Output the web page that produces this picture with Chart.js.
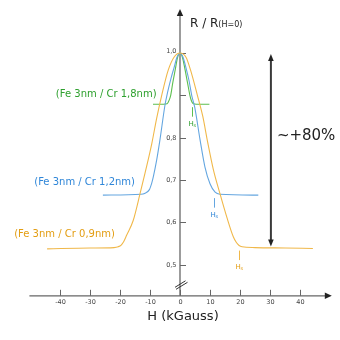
<!DOCTYPE html>
<html>
<head>
<meta charset="utf-8">
<style>
  html, body { margin: 0; padding: 0; background: #ffffff; }
  #wrap { width: 340px; height: 340px; }
</style>
<script src="https://cdn.jsdelivr.net/npm/chart.js@4/dist/chart.umd.min.js"></script>
</head>
<body>
<div id="wrap"><canvas id="c" width="340" height="340"></canvas></div>
<script>
// Magnetoresistance R / R(H=0) versus applied field H (kGauss) for Fe/Cr multilayers
const H_CR09 = [-44.3, -30, -22, -20.6, -19.6, -18.7, -17.8, -15.6, -13.3, -11.7, -9.4, -7.8, -6.1, -3.9, -2, 0,
                2, 3.5, 5.8, 7.6, 9.2, 11.1, 13.3, 15.6, 17.8, 18.8, 19.7, 20.7, 25, 35, 44.3];
const R_CR09 = [0.537, 0.539, 0.540, 0.542, 0.546, 0.555, 0.569, 0.604, 0.668, 0.715, 0.786, 0.845, 0.900, 0.960, 0.990, 1.000,
                0.990, 0.960, 0.900, 0.850, 0.790, 0.725, 0.668, 0.612, 0.565, 0.552, 0.545, 0.542, 0.540, 0.539, 0.538];

const H_CR12 = [-25.7, -13, -11.8, -10.2, -9.4, -8.9, -7.8, -6.7, -5, -4.2, -3, -2, -1, 0,
                1, 2, 3, 3.9, 4.9, 6.7, 8.3, 10, 11.7, 13.3, 26.1];
const R_CR12 = [0.664, 0.666, 0.668, 0.677, 0.693, 0.707, 0.746, 0.794, 0.877, 0.905, 0.940, 0.965, 0.990, 1.000,
                0.990, 0.965, 0.935, 0.900, 0.872, 0.794, 0.731, 0.691, 0.671, 0.666, 0.664];

const H_CR18 = [-9, -5.5, -4.3, -3.7, -3.1, -2.4, -1.6, -0.8, 0, 0.8, 1.7, 2.5, 3.3, 3.8, 4.4, 5.5, 9.8];
const R_CR18 = [0.879, 0.879, 0.880, 0.887, 0.900, 0.930, 0.960, 0.990, 1.000, 0.990, 0.960, 0.930, 0.900, 0.887, 0.880, 0.879, 0.879];

// Saturation fields Hs (kGauss) and plateau levels, per sample
const HS_FIELDS = [3.9, 11.4, 19.6];
const HS_PLATEAUS = [0.879, 0.664, 0.540];

const SERIES_LABELS = ['(Fe 3nm / Cr 1,8nm)', '(Fe 3nm / Cr 1,2nm)', '(Fe 3nm / Cr 0,9nm)'];
const LABEL_ANCHORS_H = [-7.8, -15, -21.7];
const LABEL_ANCHORS_R = [0.903, 0.693, 0.570];

const X_TICKS = [-40, -30, -20, -10, 0, 10, 20, 30, 40];
const Y_TICKS = [0.5, 0.6, 0.7, 0.8, 0.9, 1.0];
const Y_TICK_LABELS = ['0,5', '0,6', '0,7', '0,8', '', '1,0'];

// GMR amplitude arrow: from R(0) down to the Cr 0,9nm plateau
const GMR_ARROW_H = 30.3;
const GMR_ARROW_TOP = 1.0;
const GMR_ARROW_BOTTOM = 0.540;
const GMR_TEXT = '~+80%';

const COLORS = { green: '#5cbf4f', greenText: '#2ea02e', blue: '#64a6e0', blueText: '#2f86d8',
                 orange: '#f0b84a', orangeText: '#e39d12', axis: '#666666', dark: '#333333' };

const FONT = '"DejaVu Sans", Verdana, sans-serif';

function pts(hs, rs) { return hs.map((h, i) => ({ x: h, y: rs[i] })); }

const X_AXIS_AT_R = 0.426;

const axesAndNotes = {
  id: 'axesAndNotes',
  beforeDatasetsDraw(chart) {
    const { ctx, scales: { x, y } } = chart;
    const x0 = x.getPixelForValue(0);
    const yAx = y.getPixelForValue(X_AXIS_AT_R);
    ctx.save();
    ctx.strokeStyle = COLORS.axis;
    ctx.fillStyle = '#222222';
    ctx.lineWidth = 1.3;
    // horizontal axis
    const xl = x.getPixelForValue(-50.2), xr = x.getPixelForValue(50.6);
    ctx.beginPath(); ctx.moveTo(xl, yAx); ctx.lineTo(xr - 5, yAx); ctx.stroke();
    ctx.beginPath(); ctx.moveTo(xr, yAx); ctx.lineTo(xr - 7, yAx - 3.2); ctx.lineTo(xr - 7, yAx + 3.2); ctx.closePath(); ctx.fill();
    // vertical axis
    const yt = y.getPixelForValue(1.104);
    ctx.beginPath(); ctx.moveTo(x0, yAx); ctx.lineTo(x0, yt + 5); ctx.stroke();
    ctx.beginPath(); ctx.moveTo(x0, yt); ctx.lineTo(x0 - 3.2, yt + 7); ctx.lineTo(x0 + 3.2, yt + 7); ctx.closePath(); ctx.fill();
    // axis break marks
    ctx.strokeStyle = COLORS.dark; ctx.lineWidth = 1;
    ctx.beginPath(); ctx.moveTo(x0 - 5, yAx - 8.5); ctx.lineTo(x0 + 5.5, yAx - 15); ctx.stroke();
    ctx.beginPath(); ctx.moveTo(x0 - 4, yAx - 6.5); ctx.lineTo(x0 + 7.5, yAx - 13.5); ctx.stroke();
    // x ticks and labels
    ctx.strokeStyle = COLORS.axis; ctx.lineWidth = 1;
    ctx.fillStyle = '#444444';
    ctx.font = '6.5px ' + FONT;
    ctx.textAlign = 'center'; ctx.textBaseline = 'middle';
    X_TICKS.forEach(v => {
      const px = Math.round(x.getPixelForValue(v)) + 0.5;
      ctx.beginPath(); ctx.moveTo(px, yAx - 6); ctx.lineTo(px, yAx); ctx.stroke();
      ctx.fillText(String(v), px, yAx + 6.5);
    });
    // y ticks and labels
    ctx.textAlign = 'right';
    Y_TICKS.forEach((v, i) => {
      const py = Math.round(y.getPixelForValue(v)) + 0.5;
      ctx.beginPath(); ctx.moveTo(x0, py); ctx.lineTo(x0 + 6, py); ctx.stroke();
      if (Y_TICK_LABELS[i]) ctx.fillText(Y_TICK_LABELS[i], x0 - 3.5, py - (v === 1.0 ? 2 : 0));
    });
    ctx.restore();
  },
  afterDatasetsDraw(chart) {
    const { ctx, scales: { x, y } } = chart;
    ctx.save();
    // axis titles
    ctx.fillStyle = '#222222';
    ctx.textBaseline = 'alphabetic'; ctx.textAlign = 'left';
    ctx.font = '12px ' + FONT;
    ctx.fillText('R / R', 190, 26.7);
    const w = ctx.measureText('R / R').width;
    ctx.font = '8px ' + FONT;
    ctx.fillText('(H=0)', 190 + w, 27.3);
    ctx.font = '13px ' + FONT;
    ctx.textAlign = 'center';
    ctx.fillText('H (kGauss)', 183, 320);

    // series labels
    const textCols = [COLORS.greenText, COLORS.blueText, COLORS.orangeText];
    const lineCols = [COLORS.green, COLORS.blue, COLORS.orange];
    ctx.font = '10px ' + FONT;
    ctx.textAlign = 'right'; ctx.textBaseline = 'middle';
    SERIES_LABELS.forEach((t, i) => {
      ctx.fillStyle = textCols[i];
      ctx.fillText(t, x.getPixelForValue(LABEL_ANCHORS_H[i]), y.getPixelForValue(LABEL_ANCHORS_R[i]));
    });

    // saturation field markers
    HS_FIELDS.forEach((h, i) => {
      const px = Math.round(x.getPixelForValue(h)) + 0.5;
      const py = y.getPixelForValue(HS_PLATEAUS[i]);
      ctx.strokeStyle = lineCols[i]; ctx.lineWidth = 1;
      ctx.beginPath(); ctx.moveTo(px, py + 3); ctx.lineTo(px, py + 12.5); ctx.stroke();
      ctx.fillStyle = textCols[i];
      ctx.textAlign = 'left'; ctx.textBaseline = 'alphabetic';
      ctx.font = '7px ' + FONT;
      ctx.fillText('H', px - 4, py + 21.5);
      ctx.font = '5px ' + FONT;
      ctx.fillText('s', px + 1, py + 22.5);
    });

    // GMR amplitude double arrow
    const ax = x.getPixelForValue(GMR_ARROW_H);
    const a1 = y.getPixelForValue(GMR_ARROW_TOP) + 1;
    const a2 = y.getPixelForValue(GMR_ARROW_BOTTOM) - 1;
    ctx.strokeStyle = '#3a3a3a'; ctx.fillStyle = '#222222'; ctx.lineWidth = 2;
    ctx.beginPath(); ctx.moveTo(ax, a1 + 5); ctx.lineTo(ax, a2 - 5); ctx.stroke();
    ctx.beginPath(); ctx.moveTo(ax, a1); ctx.lineTo(ax - 2.8, a1 + 7); ctx.lineTo(ax + 2.8, a1 + 7); ctx.closePath(); ctx.fill();
    ctx.beginPath(); ctx.moveTo(ax, a2); ctx.lineTo(ax - 2.8, a2 - 7); ctx.lineTo(ax + 2.8, a2 - 7); ctx.closePath(); ctx.fill();
    ctx.font = '15px ' + FONT;
    ctx.fillStyle = '#222222';
    ctx.textAlign = 'left'; ctx.textBaseline = 'middle';
    ctx.fillText(GMR_TEXT, ax + 6, 136);
    ctx.restore();
  }
};

const lineStyle = { showLine: true, pointRadius: 0, borderWidth: 1.1, fill: false, cubicInterpolationMode: 'monotone' };

new Chart(document.getElementById('c'), {
  type: 'scatter',
  data: {
    datasets: [
      Object.assign({ label: SERIES_LABELS[2], data: pts(H_CR09, R_CR09), borderColor: COLORS.orange }, lineStyle),
      Object.assign({ label: SERIES_LABELS[1], data: pts(H_CR12, R_CR12), borderColor: COLORS.blue }, lineStyle),
      Object.assign({ label: SERIES_LABELS[0], data: pts(H_CR18, R_CR18), borderColor: COLORS.green }, lineStyle)
    ]
  },
  options: {
    responsive: false,
    devicePixelRatio: 1,
    animation: false,
    layout: { padding: { left: 30, right: 10, top: 10.7, bottom: 33.2 } },
    plugins: { legend: { display: false }, tooltip: { enabled: false } },
    scales: {
      x: { type: 'linear', min: -50, max: 50, display: false },
      y: { type: 'linear', min: 0.4, max: 1.1, display: false }
    }
  },
  plugins: [axesAndNotes]
});
</script>
</body>
</html>
